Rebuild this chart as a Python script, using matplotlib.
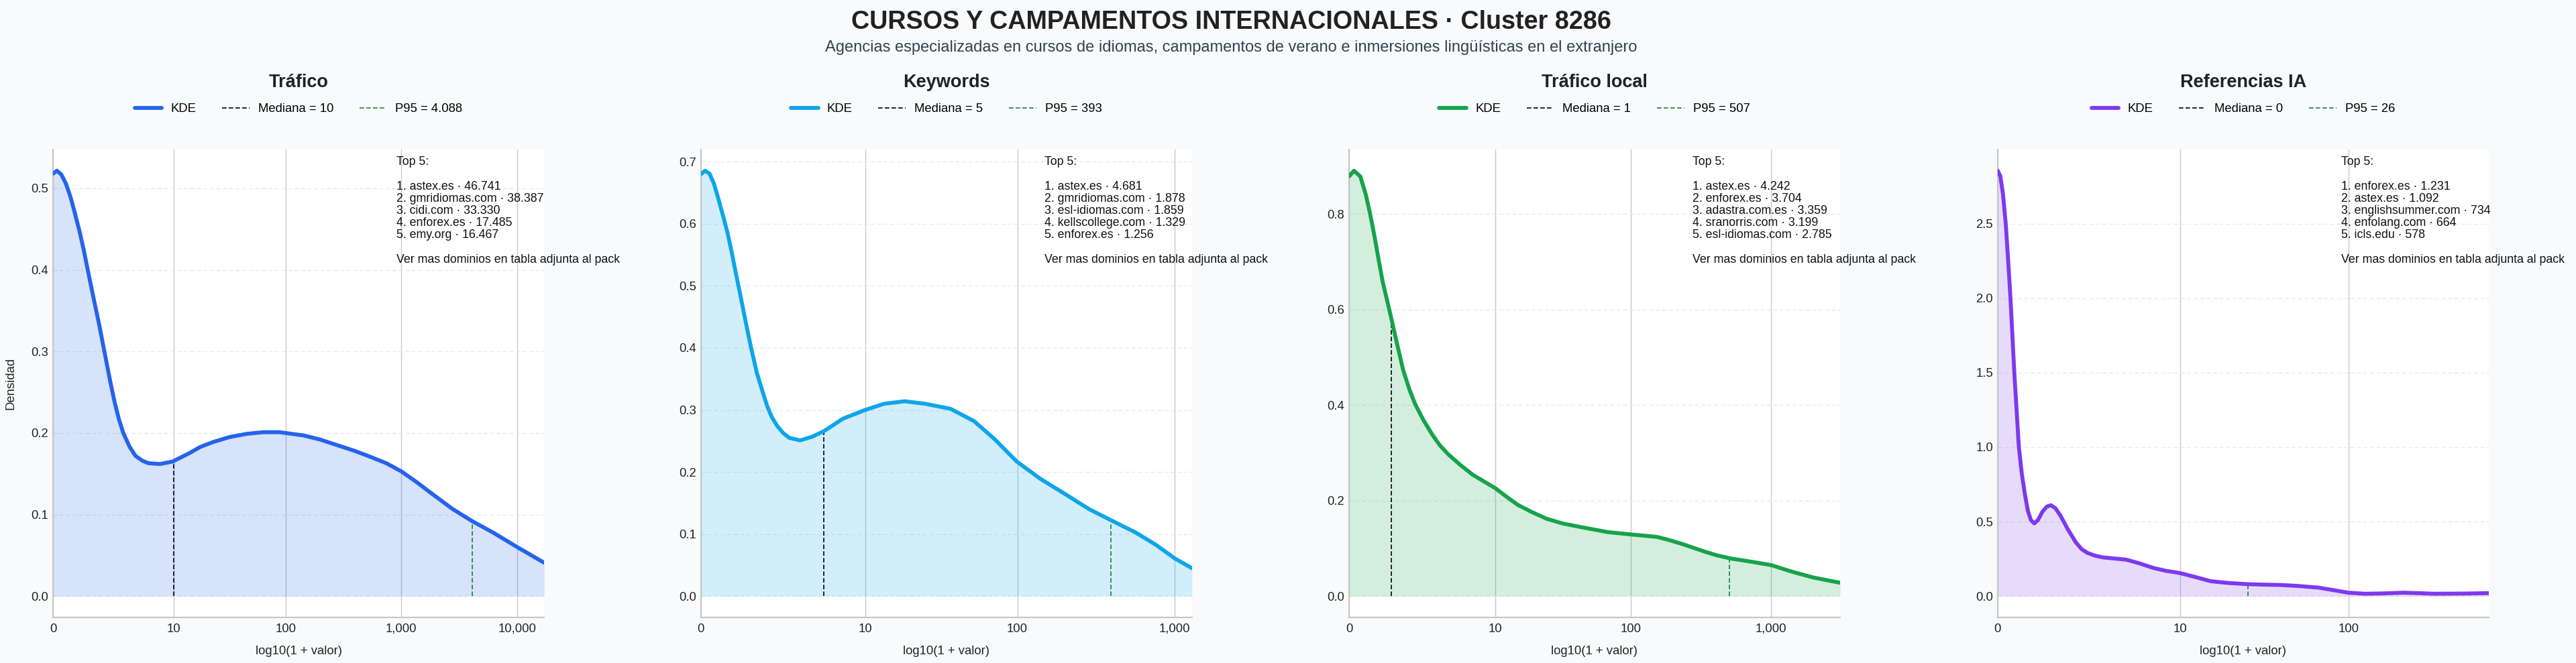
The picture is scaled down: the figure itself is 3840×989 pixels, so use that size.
import numpy as np
import matplotlib
matplotlib.use("Agg")
from matplotlib import pyplot as plt
from matplotlib.lines import Line2D
from matplotlib.ticker import FixedLocator

plt.rcParams['font.family'] = ['Liberation Sans', 'DejaVu Sans']

TITLE = "CURSOS Y CAMPAMENTOS INTERNACIONALES · Cluster 8286"
SUBTITLE = ("Agencias especializadas en cursos de idiomas, campamentos de verano "
            "e inmersiones lingüísticas en el extranjero")

panel_titles = ["Tráfico", "Keywords", "Tráfico local", "Referencias IA"]
colors = ["#2563eb", "#0ea5e9", "#16a34a", "#7c3aed"]
medians = [10, 5, 1, 0]
p95s = [4088, 393, 507, 26]
tick_values = [[0, 10, 100, 1000, 10000], [0, 10, 100, 1000], [0, 10, 100, 1000], [0, 10, 100]]

# curvas KDE, eje x = log10(1 + valor)
trafico_x = [0, 0.033, 0.071, 0.110, 0.149, 0.187, 0.226, 0.265, 0.303, 0.351, 0.40, 0.438, 0.49,
             0.53, 0.565, 0.605, 0.66, 0.71, 0.77, 0.82, 0.92, 1.03, 1.17, 1.27, 1.38, 1.52, 1.67,
             1.81, 1.95, 2.16, 2.30, 2.45, 2.60, 2.73, 2.87, 3.0, 3.13, 3.26, 3.44, 3.61, 3.79,
             4.0, 4.23]
trafico_y = [0.518, 0.5216, 0.517, 0.506, 0.49, 0.47, 0.4485, 0.424, 0.397, 0.364, 0.331, 0.303,
             0.265, 0.238, 0.218, 0.20, 0.183, 0.172, 0.166, 0.163, 0.162, 0.165, 0.175, 0.183,
             0.189, 0.195, 0.199, 0.201, 0.201, 0.197, 0.192, 0.185, 0.178, 0.171, 0.163, 0.153,
             0.140, 0.126, 0.107, 0.092, 0.078, 0.060, 0.041]

keywords_x = [0, 0.026, 0.054, 0.082, 0.111, 0.139, 0.168, 0.196, 0.224, 0.253, 0.281, 0.317, 0.354,
              0.39, 0.42, 0.45, 0.484, 0.52, 0.56, 0.628, 0.706, 0.78, 0.90, 1.04, 1.16, 1.29, 1.42,
              1.58, 1.73, 1.86, 2.0, 2.15, 2.31, 2.46, 2.60, 2.75, 2.88, 3.0, 3.11]
keywords_y = [0.68, 0.6856, 0.681, 0.665, 0.640, 0.614, 0.586, 0.553, 0.517, 0.481, 0.445, 0.401,
              0.36, 0.33, 0.306, 0.288, 0.274, 0.263, 0.255, 0.251, 0.257, 0.266, 0.286, 0.30,
              0.310, 0.314, 0.310, 0.302, 0.282, 0.253, 0.217, 0.189, 0.164, 0.140, 0.122, 0.103,
              0.083, 0.061, 0.045]

local_x = [0, 0.035, 0.08, 0.12, 0.15, 0.18, 0.21, 0.24, 0.27, 0.30, 0.34, 0.385, 0.43, 0.47, 0.53,
           0.59, 0.645, 0.705, 0.79, 0.88, 0.96, 1.04, 1.12, 1.20, 1.30, 1.405, 1.52, 1.64, 1.84,
           2.01, 2.19, 2.28, 2.37, 2.45, 2.54, 2.62, 2.71, 2.86, 3.0, 3.15, 3.30, 3.49]
local_y = [0.879, 0.891, 0.879, 0.84, 0.80, 0.755, 0.705, 0.657, 0.62, 0.582, 0.53, 0.473, 0.432,
           0.402, 0.368, 0.339, 0.316, 0.297, 0.275, 0.254, 0.240, 0.226, 0.208, 0.191, 0.176,
           0.162, 0.152, 0.145, 0.134, 0.129, 0.124, 0.117, 0.109, 0.101, 0.092, 0.085, 0.079,
           0.072, 0.065, 0.051, 0.039, 0.028]

ia_x = [0, 0.015, 0.03, 0.046, 0.06, 0.073, 0.084, 0.095, 0.108, 0.121, 0.138, 0.156, 0.172, 0.19,
        0.209, 0.23, 0.255, 0.28, 0.304, 0.33, 0.359, 0.40, 0.447, 0.48, 0.513, 0.555, 0.60, 0.67,
        0.733, 0.81, 0.887, 0.96, 1.041, 1.13, 1.217, 1.32, 1.43, 1.52, 1.613, 1.72, 1.833, 1.92,
        2.003, 2.097, 2.2, 2.317, 2.40, 2.493, 2.65, 2.806]
ia_y = [2.855, 2.82, 2.70, 2.50, 2.25, 2.0, 1.75, 1.5, 1.25, 1.0, 0.82, 0.68, 0.575, 0.51, 0.488,
        0.51, 0.565, 0.60, 0.61, 0.59, 0.54, 0.45, 0.36, 0.315, 0.29, 0.272, 0.26, 0.252, 0.245,
        0.22, 0.19, 0.17, 0.155, 0.128, 0.10, 0.088, 0.08, 0.077, 0.075, 0.068, 0.057, 0.04,
        0.023, 0.016, 0.018, 0.023, 0.02, 0.016, 0.017, 0.02]

trafico_top = ["astex.es", "gmridiomas.com", "cidi.com", "enforex.es", "emy.org"]
trafico_top_val = [46741, 38387, 33330, 17485, 16467]
keywords_top = ["astex.es", "gmridiomas.com", "esl-idiomas.com", "kellscollege.com", "enforex.es"]
keywords_top_val = [4681, 1878, 1859, 1329, 1256]
local_top = ["astex.es", "enforex.es", "adastra.com.es", "sranorris.com", "esl-idiomas.com"]
local_top_val = [4242, 3704, 3359, 3199, 2785]
ia_top = ["enforex.es", "astex.es", "englishsummer.com", "enfolang.com", "icls.edu"]
ia_top_val = [1231, 1092, 734, 664, 578]

curves = [(trafico_x, trafico_y), (keywords_x, keywords_y), (local_x, local_y), (ia_x, ia_y)]
tops = [(trafico_top, trafico_top_val), (keywords_top, keywords_top_val),
        (local_top, local_top_val), (ia_top, ia_top_val)]


def fmt_es(v):
    return f"{v:,}".replace(",", ".")


fig = plt.figure(figsize=(38.4, 9.89), dpi=100, facecolor="#f8fafc")

fig.text(0.478, 0.967, TITLE, ha="center", va="center", fontsize=27.2, fontweight="bold", color="#222222")
fig.text(0.478, 0.928, SUBTITLE, ha="center", va="center", fontsize=17, color="#334155")

lefts = [0.0206, 0.2721, 0.5237, 0.7755]

for i in range(4):
    ax = fig.add_axes([lefts[i], 0.0688, 0.1906, 0.7058])
    ax.set_facecolor("white")
    x = np.array(curves[i][0])
    y = np.array(curves[i][1])
    c = colors[i]

    ax.fill_between(x, 0, y, color=c, alpha=0.18, lw=0)
    ax.plot(x, y, color=c, lw=4.2, solid_capstyle="round", solid_joinstyle="round", zorder=3)

    # mediana y P95 hasta la curva
    xm = np.log10(1 + medians[i])
    xp = np.log10(1 + p95s[i])
    ax.vlines(xm, 0, np.interp(xm, x, y), colors="black", linestyles=(0, (4, 2)), lw=1.2, zorder=2.2)
    ax.vlines(xp, 0, np.interp(xp, x, y), colors="#15803d", linestyles=(0, (4, 2)), lw=1.2, zorder=2.2)

    ax.set_xlim(0, x[-1])
    ax.xaxis.set_major_locator(FixedLocator(np.log10(1 + np.array(tick_values[i]))))
    ax.set_xticklabels([f"{t:,}" for t in tick_values[i]])

    ax.grid(axis="x", color="#c4c8ce", lw=1.0, ls="-")
    ax.grid(axis="y", color="#e6e8eb", lw=1.0, ls=(0, (4, 3)))
    ax.set_axisbelow(True)
    for s in ["top", "right"]:
        ax.spines[s].set_visible(False)
    for s in ["left", "bottom"]:
        ax.spines[s].set_color("#c8c8c8")
        ax.spines[s].set_linewidth(1.6)
    ax.tick_params(length=0, labelsize=13.3, colors="#222222")
    ax.tick_params(axis="x", pad=6.5)
    ax.tick_params(axis="y", pad=5)

    ax.set_xlabel("log10(1 + valor)", fontsize=13.3, color="#222222")
    ax.xaxis.set_label_coords(0.5, -0.060)
    if i == 0:
        ax.set_ylabel("Densidad", fontsize=13.3, color="#222222")
        ax.yaxis.set_label_coords(-0.075, 0.5)

    ax.text(0.5, 1.143, panel_titles[i], transform=ax.transAxes, ha="center", va="center",
            fontsize=19.5, fontweight="bold", color="#222222")

    handles = [
        Line2D([], [], color=c, lw=4.2, solid_capstyle="round"),
        Line2D([], [], color="black", lw=1.2, ls=(0, (4, 2))),
        Line2D([], [], color="#15803d", lw=1.2, ls=(0, (4, 2))),
    ]
    labels = ["KDE", f"Mediana = {fmt_es(medians[i])}", f"P95 = {fmt_es(p95s[i])}"]
    ax.legend(handles, labels, loc="center", bbox_to_anchor=(0.5, 1.086), ncol=3, frameon=False,
              fontsize=13.3, handlelength=2.2, handletextpad=0.7, columnspacing=2.1, borderaxespad=0)

    names, vals = tops[i]
    lines = ["Top 5:", ""]
    for k in range(5):
        lines.append(f"{k + 1}. {names[k]} · {fmt_es(vals[k])}")
    lines += ["", "Ver mas dominios en tabla adjunta al pack"]
    ax.text(0.70, 0.985, "\n".join(lines), transform=ax.transAxes, ha="left", va="top",
            fontsize=12.8, linespacing=1.09, color="#111111", clip_on=False, zorder=5)

fig.savefig("out.png", dpi=100, facecolor=fig.get_facecolor())
